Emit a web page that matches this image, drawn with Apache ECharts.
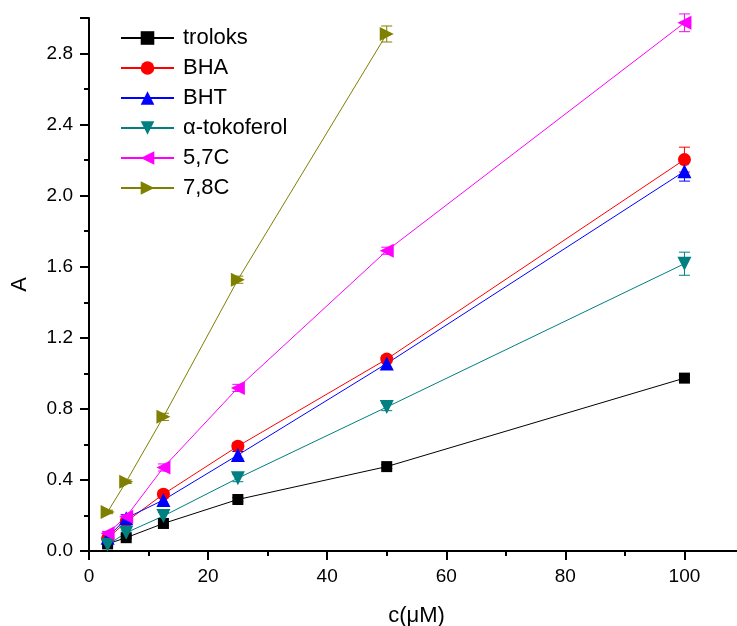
<!DOCTYPE html>
<html>
<head>
<meta charset="utf-8">
<script src="https://cdn.jsdelivr.net/npm/echarts@6/dist/echarts.min.js"></script>
<style>
  html, body { margin: 0; padding: 0; background: #fff; }
  #chart { width: 737px; height: 626px; }
</style>
</head>
<body>
<div id="chart"></div>
<script>
// concentrations, uM
const conc = [3.125, 6.25, 12.5, 25, 50, 100];

const names = ['troloks', 'BHA', 'BHT', 'α-tokoferol', '5,7C', '7,8C'];

const troloks = [0.04, 0.075, 0.155, 0.29, 0.475, 0.973];
const bha = [0.07, 0.165, 0.32, 0.59, 1.08, 2.203];
const bht = [0.075, 0.185, 0.287, 0.54, 1.055, 2.137];
const tokoferol = [0.035, 0.103, 0.197, 0.41, 0.81, 1.617];
const c57 = [0.10, 0.193, 0.47, 0.918, 1.69, 2.973];
const c78 = [0.22, 0.39, 0.755, 1.527, 2.91];

// error bars (SD)
const errTroloks = [0.005, 0.005, 0.01, 0.01, 0.01, 0.015];
const errBha = [0.01, 0.01, 0.02, 0.02, 0.02, 0.07];
const errBht = [0.01, 0.02, 0.03, 0.02, 0.03, 0.055];
const errToko = [0.01, 0.01, 0.02, 0.02, 0.02, 0.065];
const err57 = [0.01, 0.01, 0.02, 0.02, 0.02, 0.05];
const err78 = [0.01, 0.01, 0.02, 0.02, 0.045];

const values = [troloks, bha, bht, tokoferol, c57, c78];
const errors = [errTroloks, errBha, errBht, errToko, err57, err78];
const colors = ['#000000', '#ff0000', '#0000ff', '#008080', '#ff00ff', '#808000'];
const symbols = ['rect', 'circle', 'triangle', 'triangle', 'triangle', 'triangle'];
const rotations = [0, 0, 0, 180, 90, -90];
const sizes = [11, 13, 14, 14, 14, 14];

const font = 'Liberation Sans, Arial, sans-serif';

const series = [];
values.forEach((vals, i) => {
  series.push({
    type: 'custom',
    name: names[i] + '_err',
    z: 1,
    silent: true,
    data: vals.map((v, j) => [conc[j], v, errors[i][j]]),
    renderItem: (params, api) => {
      const x = api.value(0);
      const y = api.value(1);
      const e = api.value(2);
      const hi = api.coord([x, y + e]);
      const lo = api.coord([x, y - e]);
      const w = 5.5;
      const style = { stroke: colors[i], lineWidth: 1 };
      return {
        type: 'group',
        children: [
          { type: 'line', shape: { x1: hi[0], y1: hi[1], x2: lo[0], y2: lo[1] }, style },
          { type: 'line', shape: { x1: hi[0] - w, y1: hi[1], x2: hi[0] + w, y2: hi[1] }, style },
          { type: 'line', shape: { x1: lo[0] - w, y1: lo[1], x2: lo[0] + w, y2: lo[1] }, style }
        ]
      };
    }
  });
  series.push({
    type: 'line',
    name: names[i],
    z: 2,
    data: vals.map((v, j) => [conc[j], v]),
    symbol: symbols[i],
    symbolSize: sizes[i],
    symbolRotate: rotations[i],
    showAllSymbol: true,
    lineStyle: { color: colors[i], width: 1 },
    itemStyle: { color: colors[i] }
  });
});

const chart = echarts.init(document.getElementById('chart'));

chart.setOption({
  animation: false,
  backgroundColor: '#ffffff',
  grid: { left: 89, right: -7, top: 18, bottom: 75, outerBoundsMode: 'none', containLabel: false },
  legend: {
    data: names,
    orient: 'vertical',
    left: 120,
    top: 27,
    padding: 0,
    itemWidth: 53,
    itemHeight: 17,
    itemGap: 8,
    symbolRotate: 'inherit',
    textStyle: { fontFamily: font, fontSize: 22, color: '#000', padding: [0, 0, 0, 4] }
  },
  xAxis: {
    type: 'value',
    min: 0,
    max: 110,
    interval: 20,
    name: 'c(μM)',
    nameLocation: 'middle',
    nameGap: 54,
    nameTextStyle: { fontFamily: font, fontSize: 22, color: '#000' },
    axisLine: { lineStyle: { color: '#000', width: 2 } },
    axisTick: { inside: false, length: 9, lineStyle: { color: '#000', width: 2 } },
    minorTick: { show: true, splitNumber: 2, length: 5, lineStyle: { color: '#000', width: 2 } },
    axisLabel: { fontFamily: font, fontSize: 19, color: '#000', margin: 16, showMaxLabel: false },
    splitLine: { show: false }
  },
  yAxis: {
    type: 'value',
    min: 0,
    max: 3.0,
    interval: 0.4,
    name: 'A',
    nameLocation: 'middle',
    nameGap: 58,
    nameTextStyle: { fontFamily: font, fontSize: 22, color: '#000' },
    axisLine: { lineStyle: { color: '#000', width: 2 } },
    axisTick: { inside: false, length: 9, lineStyle: { color: '#000', width: 2 } },
    minorTick: { show: true, splitNumber: 2, length: 5, lineStyle: { color: '#000', width: 2 } },
    axisLabel: {
      fontFamily: font, fontSize: 19, color: '#000', margin: 16, showMaxLabel: false,
      formatter: (v) => v.toFixed(1)
    },
    splitLine: { show: false }
  },
  series: series
});
</script>
</body>
</html>
